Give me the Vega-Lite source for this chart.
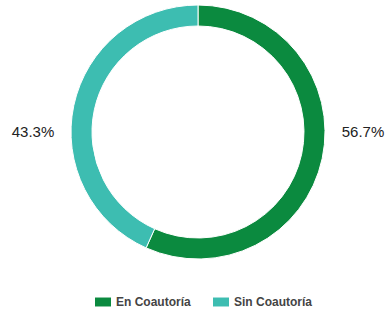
{
  "$schema": "https://vega.github.io/schema/vega-lite/v6.json",
  "width": 396,
  "height": 264,
  "padding": 0,
  "autosize": {"type": "pad"},
  "background": "white",
  "config": {"view": {"stroke": null}, "font": "Liberation Sans"},
  "data": {"values": [
    {"categoria": "En Coautoría", "valor": 56.7, "etiqueta": "56.7%", "orden": 1},
    {"categoria": "Sin Coautoría", "valor": 43.3, "etiqueta": "43.3%", "orden": 2}
  ]},
  "layer": [
    {
      "mark": {"type": "arc", "outerRadius": 127, "innerRadius": 106, "stroke": "white", "strokeWidth": 1},
      "encoding": {
        "theta": {"field": "valor", "type": "quantitative", "stack": true},
        "order": {"field": "orden", "type": "quantitative"},
        "color": {
          "field": "categoria", "type": "nominal",
          "scale": {"domain": ["En Coautoría", "Sin Coautoría"], "range": ["#0b8a3f", "#3dbdb1"]},
          "legend": {
            "title": null, "orient": "none", "direction": "horizontal",
            "legendX": 95, "legendY": 294,
            "symbolType": "M-1,-0.56H1V0.56H-1Z", "symbolSize": 256, "symbolStrokeWidth": 0,
            "labelFont": "Liberation Sans", "labelFontSize": 12, "labelFontWeight": "bold",
            "labelColor": "#444444", "labelOffset": 5, "columnPadding": 22
          }
        }
      }
    },
    {
      "mark": {"type": "text", "fontSize": 15, "color": "#222222", "font": "Liberation Sans"},
      "encoding": {
        "x": {"field": "etiqueta", "type": "nominal", "axis": null,
              "scale": {"type": "point", "domain": ["43.3%", "56.7%"], "padding": 0.1}},
        "text": {"field": "etiqueta"}
      }
    }
  ]
}
